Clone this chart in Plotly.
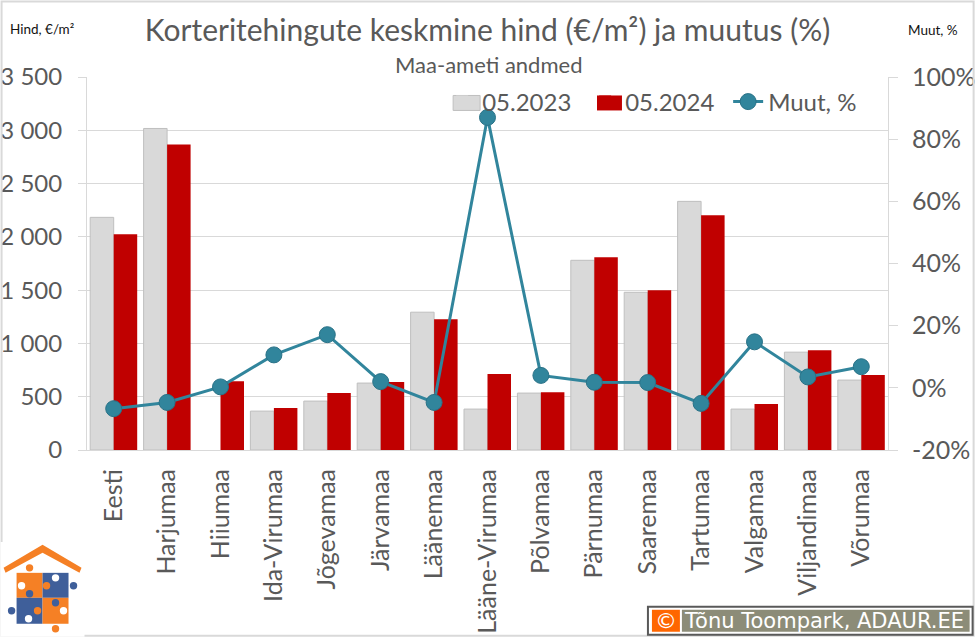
import plotly.graph_objects as go
from plotly.subplots import make_subplots

# kategooriad ja väärtused
maakonnad = ['Eesti', 'Harjumaa', 'Hiiumaa', 'Ida-Virumaa', 'Jõgevamaa', 'Järvamaa', 'Läänemaa', 'Lääne-Virumaa',
             'Põlvamaa', 'Pärnumaa', 'Saaremaa', 'Tartumaa', 'Valgamaa', 'Viljandimaa', 'Võrumaa']
hind_2023 = [2183, 3017, None, 365, 459, 628, 1293, 384, 534, 1780, 1480, 2333, 384, 918, 656]
hind_2024 = [2024, 2867, 646, 394, 534, 637, 1227, 712, 543, 1808, 1499, 2202, 431, 937, 703]
muutus = [-6.7, -4.7, 0.3, 10.6, 17.1, 2.0, -4.7, 87, 4.0, 1.8, 1.7, -5.0, 14.8, 3.5, 6.8]
muutus_teljed = [-20, 0, 20, 40, 60, 80, 100]
muutus_sildid = ['-20%', '0%', '20%', '40%', '60%', '80%', '100%']

W, H = 975, 637
L, R, T, B = 86.5, 888.3, 76.5, 450.0
HALL = '#595959'
JOON = '#D9D9D9'
TEAL = '#31859C'
ORANZ = '#F58025'
SININE = '#3F5F9A'
FONT = 'Lato'


def px(x):
    return (x - L) / (R - L)


def py(y):
    return (B - y) / (B - T)


def kast(x0, y0, x1, y1, varv, joon=None, laius=0):
    return dict(type='rect', xref='paper', yref='paper', x0=px(x0), x1=px(x1), y0=py(y0), y1=py(y1),
                fillcolor=varv, line=dict(color=joon, width=laius) if joon else dict(width=0), layer='above')


def ring(cx, cy, r, varv):
    return dict(type='circle', xref='paper', yref='paper', x0=px(cx - r), x1=px(cx + r), y0=py(cy + r), y1=py(cy - r),
                fillcolor=varv, line=dict(width=0), layer='above')


def logo_kujundid():
    """Pusle-maja logo vasakus allnurgas, koordinaadid pikslites."""
    katus = [(3, 568), (42, 545), (81, 568), (79, 573), (42, 553), (5, 573)]
    tee = 'M' + 'L'.join(f'{px(x)},{py(y)}' for x, y in katus) + 'Z'
    k = [dict(type='rect', xref='paper', yref='paper', x0=px(0), x1=px(84), y0=py(542), y1=py(637),
              fillcolor='white', line=dict(width=0), layer='above'),
         dict(type='path', xref='paper', yref='paper', path=tee, fillcolor=ORANZ, line=dict(width=0), layer='above')]
    k += [kast(16, 573, 42, 598, ORANZ), kast(42, 573, 68, 598, SININE),
          kast(16, 598, 42, 624, SININE), kast(42, 598, 68, 624, ORANZ)]
    k += [ring(29, 568, 3.7, ORANZ), ring(21, 586, 3.7, 'white'), ring(46, 586, 3.7, ORANZ),
          ring(73, 586, 3.7, SININE), ring(55, 578, 3.7, 'white'), ring(29, 594, 3.7, SININE),
          ring(11, 611, 3.7, SININE), ring(28, 619, 3.7, 'white'), ring(37, 611, 3.7, ORANZ),
          ring(55, 603, 3.7, SININE), ring(63, 611, 3.7, 'white'), ring(55, 629, 3.7, ORANZ)]
    return k


def tekst(x, y, sisu, suurus, varv=HALL, ankur='left', font=FONT):
    return dict(xref='paper', yref='paper', x=px(x), y=py(y), text=sisu, showarrow=False, xanchor=ankur, yanchor='middle',
                font=dict(family=font, size=suurus, color=varv))


fig = make_subplots(specs=[[{'secondary_y': True}]])
# legendi jaoks ilma servata märk, päris tulbad on all
fig.add_trace(go.Scatter(x=[maakonnad[0]], y=[None], name='05.2023', mode='markers',
                         marker=dict(color=JOON, symbol='square', size=12, line=dict(width=0))),
              secondary_y=False)
fig.add_trace(go.Bar(x=maakonnad, y=hind_2023, name='05.2023', showlegend=False,
                     marker=dict(color=JOON, line=dict(color='#BFBFBF', width=1))),
              secondary_y=False)
fig.add_trace(go.Bar(x=maakonnad, y=hind_2024, name='05.2024', marker=dict(color='#C00000', line=dict(width=0))),
              secondary_y=False)
fig.add_trace(go.Scatter(x=maakonnad, y=muutus, name='Muut, %', mode='lines+markers', line=dict(color=TEAL, width=3),
                         marker=dict(color=TEAL, size=16, line=dict(color='#2A7287', width=1))),
              secondary_y=True)

kujundid = [kast(1, 1, 974, 636, 'rgba(0,0,0,0)', JOON, 2), kast(140, 70, 835, 80, 'white')]
# legendi märgid on Excelis suuremad kui plotly omad
kujundid += [kast(453, 95, 480, 110, JOON, '#BFBFBF', 1), kast(597, 95, 622, 110, '#C00000')]
kujundid += logo_kujundid()
kujundid += [kast(648, 607, 973, 635, 'white', '#595959', 2), kast(652, 610, 680, 632, '#FF6600'),
             kast(682, 610, 970, 632, '#8C8C78')]

fig.update_layout(
    width=W,
    height=H,
    margin=dict(l=L, r=W - R, t=T, b=H - B, pad=0, autoexpand=False),
    paper_bgcolor='white',
    plot_bgcolor='white',
    barmode='group',
    bargap=0.12,
    bargroupgap=0,
    separators=', ',
    font=dict(family=FONT, color=HALL),
    title=dict(text='Korteritehingute keskmine hind (€/m²) ja muutus (%)', x=487.5 / W, y=1 - 30 / H, xanchor='center',
               yanchor='middle', font=dict(family=FONT, size=30, color=HALL)),
    legend=dict(orientation='h', x=px(442), y=py(79), xanchor='left', yanchor='top', entrywidth=98, entrywidthmode='pixels',
                bgcolor='rgba(0,0,0,0)', font=dict(family=FONT, size=24, color=HALL), traceorder='normal'),
    shapes=kujundid,
    annotations=[
        tekst(488, 64, 'Maa-ameti andmed', 22, ankur='center'),
        tekst(7, 28, 'Hind, €/m²', 13.5, varv='#111111'),
        tekst(906, 29, 'Muut, %', 13.5, varv='#111111'),
        tekst(666, 621, '©', 22, varv='white', ankur='center', font='DejaVu Sans'),
        tekst(682, 621, 'Tõnu Toompark, ADAUR.EE', 21, varv='white', font='DejaVu Sans'),
    ],
    showlegend=True,
)

fig.update_xaxes(
    type='category',
    domain=[0, 1],
    range=[-0.5, 14.5],
    automargin=False,
    tickangle=-90,
    ticks='',
    showline=True,
    linecolor=JOON,
    linewidth=1,
    showgrid=False,
    tickfont=dict(family=FONT, size=25, color=HALL),
    ticklabelstandoff=8,
)
fig.update_yaxes(
    automargin=False,
    range=[0, 3500],
    dtick=500,
    tickformat=',d',
    ticks='outside',
    ticklen=8,
    tickcolor=JOON,
    showline=True,
    linecolor=JOON,
    gridcolor=JOON,
    zeroline=False,
    tickfont=dict(family=FONT, size=24, color=HALL),
    ticklabelstandoff=11,
    secondary_y=False,
)
fig.update_yaxes(
    automargin=False,
    range=[-20, 100],
    tickvals=muutus_teljed,
    ticktext=muutus_sildid,
    ticks='outside',
    ticklen=9,
    tickcolor=JOON,
    showline=True,
    linecolor=JOON,
    showgrid=False,
    zeroline=False,
    tickfont=dict(family=FONT, size=25, color=HALL),
    ticklabelstandoff=9,
    secondary_y=True,
)

fig.write_html('out.html', config=dict(displayModeBar=False), post_script="document.body.style.margin='0';")
